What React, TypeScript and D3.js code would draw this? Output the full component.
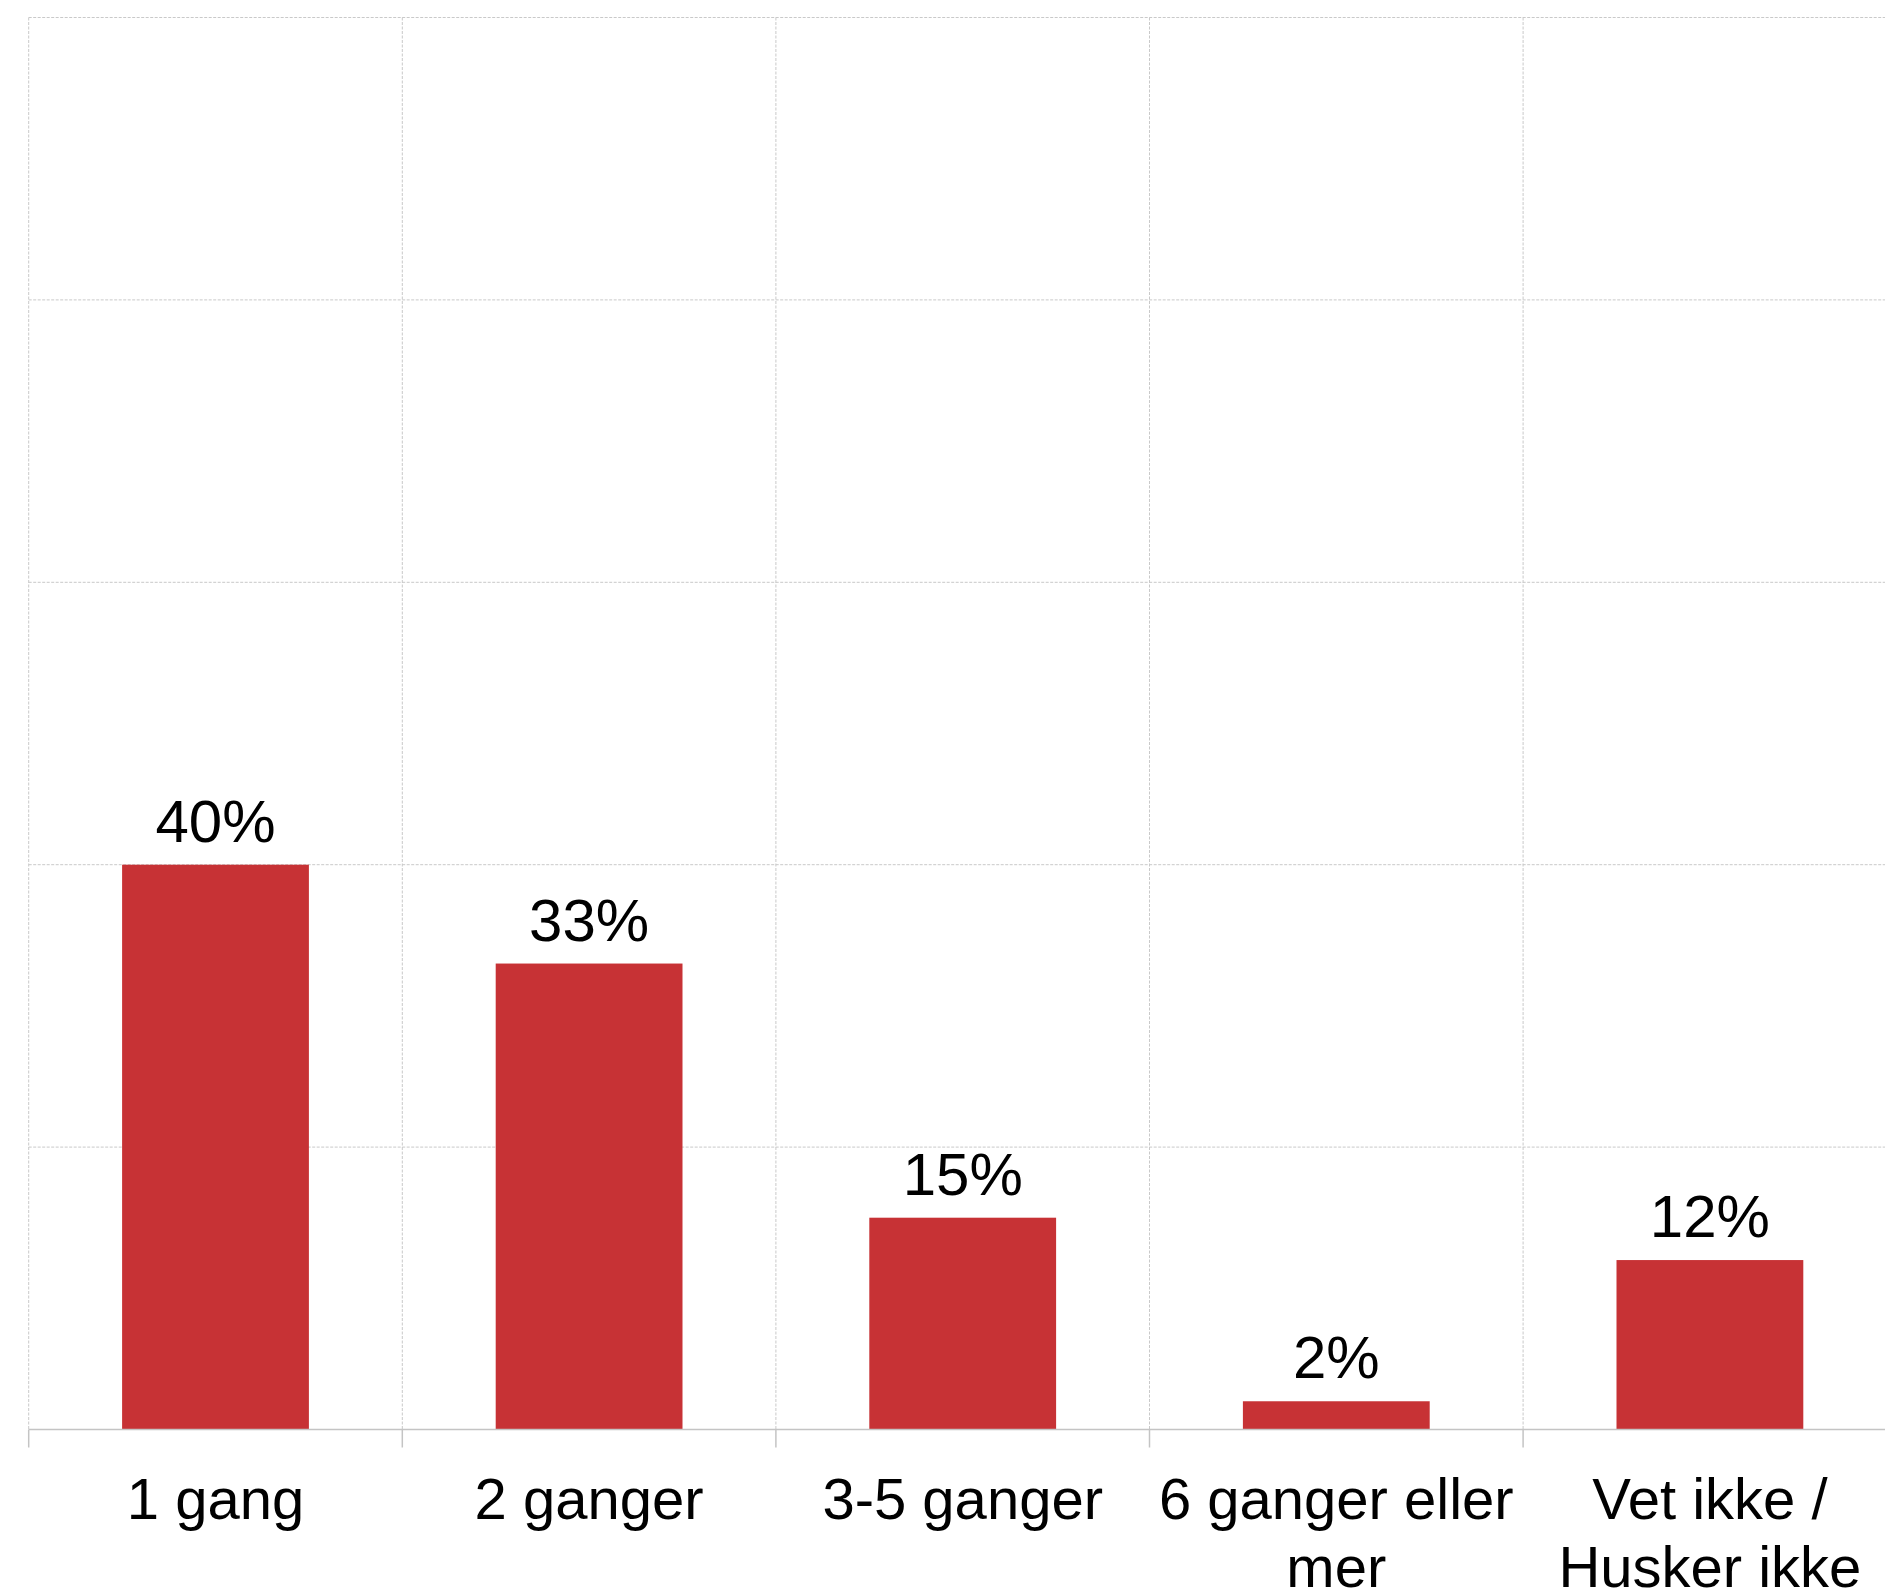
import React, { useMemo } from "react";
import * as d3 from "d3";

// Survey answers: how many times
const categories = ["1 gang", "2 ganger", "3-5 ganger", "6 ganger eller mer", "Vet ikke / Husker ikke"];
const values = [40, 33, 15, 2, 12];
const yTicks = [0, 20, 40, 60, 80, 100];

const WIDTH = 1885;
const HEIGHT = 1592;
const FONT = "'Liberation Sans', Arial, Helvetica, sans-serif";
const BAR_COLOR = "#c73235";
const GRID_COLOR = "#c9c9c9";
const AXIS_COLOR = "#c4c4c4";

const margin = { left: 28.7, top: 17.5 };
const baselineY = 1429.5;
const bandWidth = 373.6;

const catFontSize = 58;
const valFontSize = 60;
const lineHeight = 67.5;

function wrapLabel(text: string, maxWidth: number, font: string): string[] {
  const canvas = document.createElement("canvas");
  const ctx = canvas.getContext("2d");
  if (!ctx) return [text];
  ctx.font = font;
  const words = text.split(" ");
  const lines: string[] = [];
  let current = "";
  for (const w of words) {
    const trial = current ? current + " " + w : w;
    if (ctx.measureText(trial).width <= maxWidth || !current) {
      current = trial;
    } else {
      lines.push(current);
      current = w;
    }
  }
  if (current) lines.push(current);
  return lines;
}

export default function App() {
  const x = useMemo(
    () =>
      d3
        .scaleBand<string>()
        .domain(categories)
        .range([margin.left, margin.left + bandWidth * categories.length])
        .paddingInner(0.5)
        .paddingOuter(0.25),
    []
  );
  const bandX = useMemo(
    () =>
      d3
        .scaleBand<string>()
        .domain(categories)
        .range([margin.left, margin.left + bandWidth * categories.length])
        .padding(0),
    []
  );
  const y = useMemo(() => d3.scaleLinear().domain([0, 100]).range([baselineY, margin.top]), []);

  const wrapped = categories.map((c) => wrapLabel(c, bandWidth - 8, `${catFontSize}px ${FONT}`));

  const gridRight = WIDTH;

  return (
    <div style={{ position: "absolute", left: 0, top: 0 }}>
      <svg width={WIDTH} height={HEIGHT} style={{ display: "block", background: "#fff" }}>
        {/* horizontal gridlines */}
        {yTicks
          .filter((t) => t > 0)
          .map((t) => (
            <line
              key={"h" + t}
              x1={margin.left}
              x2={gridRight}
              y1={y(t)}
              y2={y(t)}
              stroke={GRID_COLOR}
              strokeWidth={1}
              strokeDasharray="3,1.5"
            />
          ))}
        {/* vertical gridlines at band boundaries */}
        {categories.map((c) => (
          <line
            key={"v" + c}
            x1={bandX(c)!}
            x2={bandX(c)!}
            y1={y(100)}
            y2={baselineY}
            stroke={GRID_COLOR}
            strokeWidth={1}
            strokeDasharray="3,1.5"
          />
        ))}
        {/* bars */}
        {categories.map((c, i) => (
          <rect
            key={"b" + c}
            x={x(c)!}
            y={y(values[i])}
            width={x.bandwidth()}
            height={baselineY - y(values[i])}
            fill={BAR_COLOR}
          />
        ))}
        {/* value labels */}
        {categories.map((c, i) => (
          <text
            key={"l" + c}
            x={x(c)! + x.bandwidth() / 2}
            y={y(values[i]) - 23}
            textAnchor="middle"
            fontFamily={FONT}
            fontSize={valFontSize}
            fill="#000"
          >
            {`${values[i]}%`}
          </text>
        ))}
        {/* x axis */}
        <line x1={margin.left} x2={gridRight} y1={baselineY} y2={baselineY} stroke={AXIS_COLOR} strokeWidth={1.5} />
        {categories.map((c) => (
          <line
            key={"t" + c}
            x1={bandX(c)!}
            x2={bandX(c)!}
            y1={baselineY}
            y2={baselineY + 18}
            stroke={AXIS_COLOR}
            strokeWidth={1.5}
          />
        ))}
        {categories.map((c, i) => (
          <text
            key={"c" + c}
            x={bandX(c)! + bandX.bandwidth() / 2}
            y={1519}
            textAnchor="middle"
            fontFamily={FONT}
            fontSize={catFontSize}
            fill="#000"
          >
            {wrapped[i].map((line, j) => (
              <tspan key={j} x={bandX(c)! + bandX.bandwidth() / 2} dy={j === 0 ? 0 : lineHeight}>
                {line}
              </tspan>
            ))}
          </text>
        ))}
      </svg>
    </div>
  );
}
